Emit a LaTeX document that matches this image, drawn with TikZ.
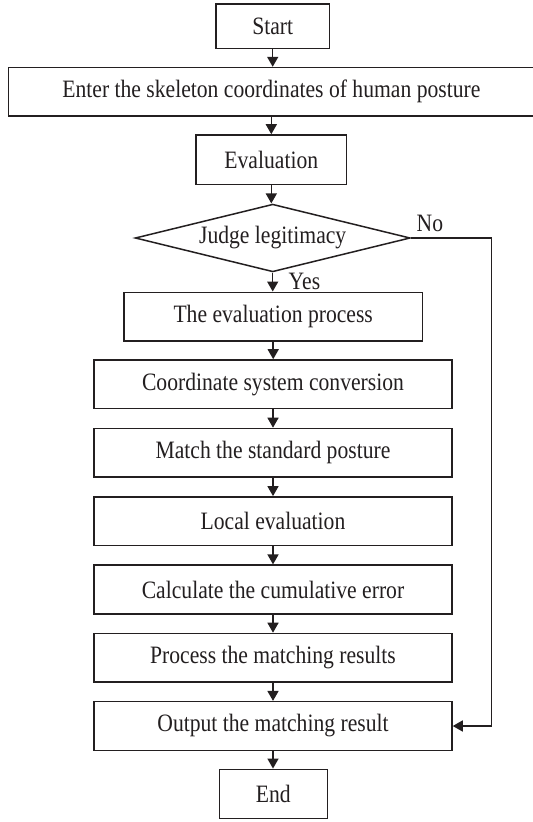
\documentclass[tikz,border=0pt]{standalone}
\usepackage{fontspec}
\setmainfont{Liberation Serif}[FakeStretch=0.865]
\usetikzlibrary{arrows.meta,shapes.geometric}
\definecolor{ink}{HTML}{231F20}
\begin{document}
\begin{tikzpicture}[x=1bp,y=-1bp,
  every node/.style={font=\fontsize{25bp}{29bp}\selectfont, text=ink},
  stepbox/.style={draw=ink, line width=1.5bp, rectangle, inner sep=0pt},
  decision/.style={draw=ink, line width=1.5bp, diamond, aspect=4, inner sep=0pt},
  label/.style={inner sep=0pt, anchor=base west},
  arr/.style={draw=ink, line width=1.5bp, -{Triangle[width=11bp,length=10bp]}},
  link/.style={draw=ink, line width=1.5bp}]
\useasboundingbox (0,0) rectangle (533,822);
\fill[white] (0,0) rectangle (533,822);

% process steps, top to bottom
\node[stepbox, minimum width=113.3bp, minimum height=44.3bp] (start) at (272.7,26.2) {Start};
\node[stepbox, minimum width=526.2bp, minimum height=48.5bp] (enter) at (271.4,91.8) {Enter the skeleton coordinates of human posture};
\node[stepbox, minimum width=150.7bp, minimum height=49.5bp] (eval) at (271.3,159.7) {Evaluation};
\node[decision, minimum width=275bp, minimum height=67.7bp] (judge) at (272.7,238) {Judge legitimacy};
\node[stepbox, minimum width=298.3bp, minimum height=48.5bp] (proc) at (273.2,316.5) {The evaluation process};
\node[stepbox, minimum width=358bp, minimum height=48.7bp] (coord) at (273,384.3) {Coordinate system conversion};
\node[stepbox, minimum width=358bp, minimum height=48.7bp] (match) at (273,452.8) {Match the standard posture};
\node[stepbox, minimum width=358bp, minimum height=48.7bp] (local) at (273,521.2) {Local evaluation};
\node[stepbox, minimum width=358bp, minimum height=48.7bp] (calc) at (273,589.5) {Calculate the cumulative error};
\node[stepbox, minimum width=358bp, minimum height=48.7bp] (procres) at (273,657.8) {Process the matching results};
\node[stepbox, minimum width=358bp, minimum height=48.7bp] (output) at (273,726) {Output the matching result};
\node[stepbox, minimum width=108bp, minimum height=49.4bp] (end) at (273.3,794) {End};

% branch labels
\node[label] (nolabel) at (416.5,231.7) {No};
\node[label] (yeslabel) at (288.5,289) {Yes};

% main flow
\draw[arr] (start.south) -- (start.south |- enter.north);
\draw[arr] (eval.south |- enter.south) -- (eval.north);
\draw[arr] (eval.south) -- (eval.south |- judge.north);
\draw[arr] (judge.south) -- (judge.south |- proc.north);
\draw[arr] (proc.south) -- (proc.south |- coord.north);
\draw[arr] (coord.south) -- (match.north);
\draw[arr] (match.south) -- (local.north);
\draw[arr] (local.south) -- (calc.north);
\draw[arr] (calc.south) -- (procres.north);
\draw[arr] (procres.south) -- (output.north);
\draw[arr] (output.south) -- (output.south |- end.north);

% "No" branch skips straight to the output step
\coordinate (noturn) at (491.7,238);
\draw[arr] (judge.east) -- (noturn) |- (output.east);
\end{tikzpicture}
\end{document}
